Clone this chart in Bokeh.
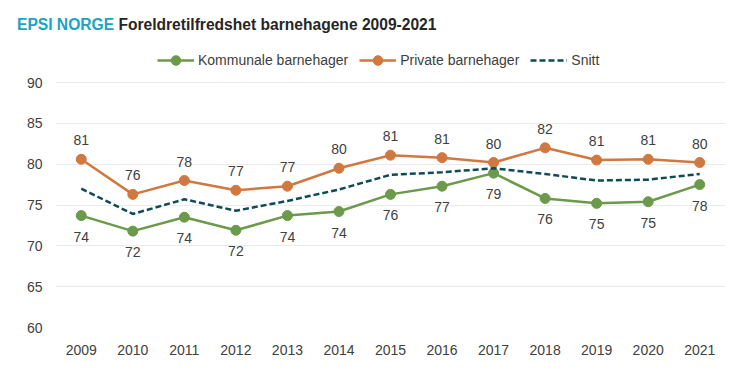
from bokeh.plotting import figure
from bokeh.layouts import column
from bokeh.models import (ColumnDataSource, Range1d, FixedTicker, Legend, LegendItem, Div)
from bokeh.core.properties import value
from bokeh.embed import file_html
from bokeh.resources import INLINE

years = [2009, 2010, 2011, 2012, 2013, 2014, 2015, 2016, 2017, 2018, 2019, 2020, 2021]
kommunale = [73.7, 71.8, 73.5, 71.9, 73.7, 74.2, 76.3, 77.3, 78.9, 75.8, 75.2, 75.4, 77.5]
private = [80.6, 76.3, 78.0, 76.8, 77.3, 79.5, 81.1, 80.8, 80.2, 82.0, 80.5, 80.6, 80.2]
snitt = [77.0, 73.9, 75.7, 74.3, 75.5, 76.9, 78.7, 79.0, 79.5, 78.8, 78.0, 78.1, 78.8]
kommunale_labels = ["74", "72", "74", "72", "74", "74", "76", "77", "79", "76", "75", "75", "78"]
private_labels = ["81", "76", "78", "77", "77", "80", "81", "81", "80", "82", "81", "81", "80"]
y_ticks = [60, 65, 70, 75, 80, 85, 90]
title_brand = "EPSI NORGE"
title_text = "Foreldretilfredshet barnehagene 2009-2021"

GREEN = "#6A9A4A"
ORANGE = "#D0783F"
TEAL = "#0D4B57"
TXT = "#404040"
FONT = "Liberation Sans"

W = 738
HEAD_H = 40
H = 337
BL, BR, BB = 55, 13, 50
PX_PER_UNIT = 245 / 30.0
y_top = 60 + (H - BB) / PX_PER_UNIT

# --- title strip ---
head = Div(
    text=(f'<div style="position:absolute; left:17px; top:16px; white-space:nowrap; '
          f'font-family:\'{FONT}\'; font-size:15.6px; font-weight:bold; line-height:18px; color:#262626;">'
          f'<span style="color:#1AA3C4;">{title_brand}</span> {title_text}</div>'),
    width=W, height=HEAD_H, margin=(0, 0, 0, 0),
    styles={"position": "relative", "background": "white"})

# --- main chart ---
src = ColumnDataSource(dict(x=years, k=kommunale, p=private, s=snitt,
                            kl=kommunale_labels, pl=private_labels))

p = figure(width=W, height=H, output_backend="svg", toolbar_location=None,
           x_range=Range1d(2008.5, 2021.5), y_range=Range1d(60, y_top),
           min_border_left=BL, min_border_right=BR, min_border_top=0, min_border_bottom=BB)
p.outline_line_color = None
p.background_fill_color = "white"
p.border_fill_color = "white"

for ax in (p.xaxis[0], p.yaxis[0]):
    ax.axis_line_color = None
    ax.major_tick_line_color = None
    ax.minor_tick_line_color = None
    ax.major_label_text_font = FONT
    ax.major_label_text_font_size = "14px"
    ax.major_label_text_color = TXT
p.xaxis.ticker = FixedTicker(ticks=years)
p.yaxis.ticker = FixedTicker(ticks=y_ticks)
p.xaxis.major_label_standoff = 11
p.yaxis.major_label_standoff = 7
p.xgrid.grid_line_color = None
p.ygrid.grid_line_color = "#EBEBEB"
p.ygrid.grid_line_width = 1

rk = p.line("x", "k", source=src, line_color=GREEN, line_width=2.5)
ck = p.scatter("x", "k", source=src, size=10, fill_color=GREEN, line_color=GREEN)
rp = p.line("x", "p", source=src, line_color=ORANGE, line_width=2.5)
cp = p.scatter("x", "p", source=src, size=10, fill_color=ORANGE, line_color=ORANGE)
rs = p.line("x", "s", source=src, line_color=TEAL, line_width=2.5, line_dash="6 3")

p.text("x", "p", text="pl", source=src, text_align="center", text_baseline="middle",
       y_offset=-19, text_font=value(FONT), text_font_size="14px", text_color=TXT)
p.text("x", "k", text="kl", source=src, text_align="center", text_baseline="middle",
       y_offset=21, text_font=value(FONT), text_font_size="14px", text_color=TXT)

legend = Legend(items=[
    LegendItem(label="Kommunale barnehager", renderers=[rk, ck]),
    LegendItem(label="Private barnehager", renderers=[rp, cp]),
    LegendItem(label="Snitt", renderers=[rs]),
], orientation="horizontal", location=(102, 255))
legend.label_text_font = FONT
legend.label_text_font_size = "14px"
legend.label_text_color = TXT
legend.glyph_width = 37
legend.glyph_height = 24
legend.label_height = 24
legend.label_standoff = 4
legend.spacing = 11
legend.padding = 0
legend.margin = 0
legend.border_line_color = None
legend.background_fill_alpha = 0
p.add_layout(legend, "center")

layout = column(head, p, spacing=0)
open("out.html", "w").write(file_html(layout, INLINE))
